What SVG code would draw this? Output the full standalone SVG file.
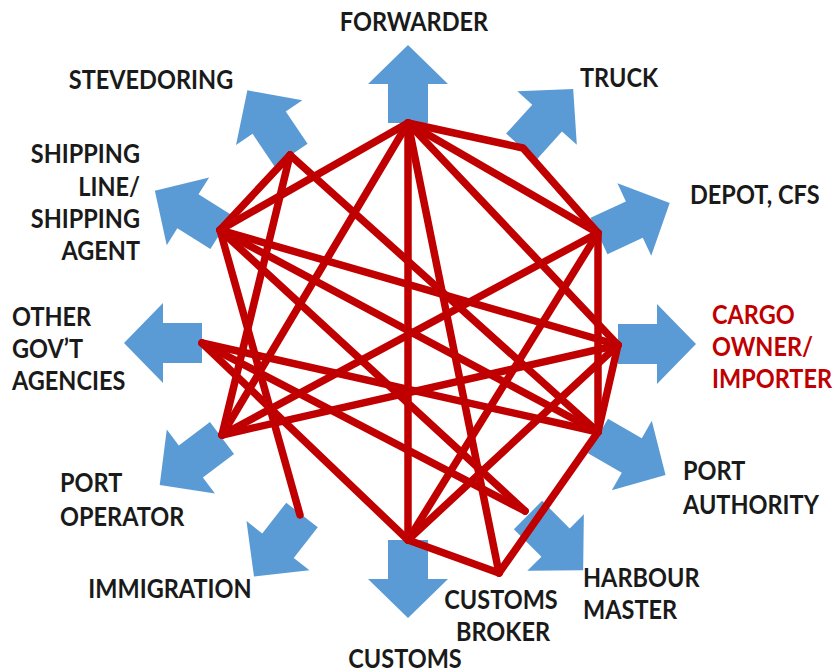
<svg xmlns="http://www.w3.org/2000/svg" width="835" height="672" viewBox="0 0 835 672">
  <style>
    .arrow { fill: #5b9bd5; }
    .link { stroke: #c00000; stroke-width: 7.5; stroke-linecap: round; stroke-linejoin: round; fill: none; }
    .lbl { font-family: Lato, "Liberation Sans", sans-serif; font-weight: bold; font-size: 23.5px; fill: #1a1a1a; }
    .red { fill: #c00000; }
    .mid { text-anchor: middle; }
    .end { text-anchor: end; }
  </style>
  <defs>
    <!-- block arrow pointing up, base centre at the origin -->
    <polygon id="blk" points="-20,0 -20,-39 -40,-39 0,-78 40,-39 20,-39 20,0"/>
  </defs>
  <rect width="835" height="672" fill="#ffffff"/>

  <g id="n-forwarder">
    <use class="arrow" href="#blk" transform="translate(408,123) rotate(0)"/>
    <text class="lbl mid" transform="translate(414,31) scale(1,1.15)">FORWARDER</text>
  </g>
  <g id="n-truck">
    <use class="arrow" href="#blk" transform="translate(521,147) rotate(42)"/>
    <text class="lbl" transform="translate(580,87) scale(1,1.15)">TRUCK</text>
  </g>
  <g id="n-depot">
    <use class="arrow" href="#blk" transform="translate(599,236) rotate(65)"/>
    <text class="lbl" transform="translate(690,204) scale(1,1.15)">DEPOT, CFS</text>
  </g>
  <g id="n-cargo">
    <use class="arrow" href="#blk" transform="translate(618,344) rotate(90)"/>
    <text class="lbl red" transform="translate(712,324) scale(1,1.15)">CARGO</text>
    <text class="lbl red" transform="translate(712,356) scale(1,1.15)">OWNER/</text>
    <text class="lbl red" transform="translate(712,388) scale(1,1.15)">IMPORTER</text>
  </g>
  <g id="n-portauthority">
    <use class="arrow" href="#blk" transform="translate(598,436) rotate(120)"/>
    <text class="lbl" transform="translate(683,480) scale(1,1.15)">PORT</text>
    <text class="lbl" transform="translate(683,514) scale(1,1.15)">AUTHORITY</text>
  </g>
  <g id="n-harbour">
    <use class="arrow" href="#blk" transform="translate(528,515) rotate(135)"/>
    <text class="lbl" transform="translate(583,587) scale(1,1.15)">HARBOUR</text>
    <text class="lbl" transform="translate(583,619) scale(1,1.15)">MASTER</text>
  </g>
  <g id="n-broker">
    <text class="lbl mid" transform="translate(501,609) scale(1,1.15)">CUSTOMS</text>
    <text class="lbl mid" transform="translate(503,641) scale(1,1.15)">BROKER</text>
  </g>
  <g id="n-customs">
    <use class="arrow" href="#blk" transform="translate(408,540) rotate(180)"/>
    <text class="lbl mid" transform="translate(405,668) scale(1,1.15)">CUSTOMS</text>
  </g>
  <g id="n-immigration">
    <use class="arrow" href="#blk" transform="translate(302,515) rotate(218)"/>
    <text class="lbl mid" transform="translate(170,598) scale(1,1.15)">IMMIGRATION</text>
  </g>
  <g id="n-portoperator">
    <use class="arrow" href="#blk" transform="translate(222,438) rotate(233)"/>
    <text class="lbl" transform="translate(60,492) scale(1,1.15)">PORT</text>
    <text class="lbl" transform="translate(60,526) scale(1,1.15)">OPERATOR</text>
  </g>
  <g id="n-othergov">
    <use class="arrow" href="#blk" transform="translate(202,343) rotate(270)"/>
    <text class="lbl" transform="translate(12,326) scale(1,1.15)">OTHER</text>
    <text class="lbl" transform="translate(12,358) scale(1,1.15)">GOV’T</text>
    <text class="lbl" transform="translate(12,390) scale(1,1.15)">AGENCIES</text>
  </g>
  <g id="n-shipping">
    <use class="arrow" href="#blk" transform="translate(221,232) rotate(302)"/>
    <text class="lbl end" transform="translate(140,163) scale(1,1.15)">SHIPPING</text>
    <text class="lbl end" transform="translate(140,196) scale(1,1.15)">LINE/</text>
    <text class="lbl end" transform="translate(140,228) scale(1,1.15)">SHIPPING</text>
    <text class="lbl end" transform="translate(140,260) scale(1,1.15)">AGENT</text>
  </g>
  <g id="n-stevedoring">
    <use class="arrow" href="#blk" transform="translate(291,155) rotate(326)"/>
    <text class="lbl mid" transform="translate(151,89) scale(1,1.15)">STEVEDORING</text>
  </g>

  <!-- links are drawn over the arrow bases -->
  <g id="connectors" class="link">
    <path d="M408,123 L523,148 L598,233"/>
    <line x1="408" y1="123" x2="598" y2="233"/>
    <line x1="408" y1="123" x2="618" y2="345"/>
    <line x1="408" y1="123" x2="499" y2="573"/>
    <line x1="408" y1="123" x2="408" y2="540"/>
    <line x1="408" y1="123" x2="222" y2="435"/>
    <line x1="408" y1="123" x2="220" y2="230"/>
    <line x1="290" y1="155" x2="220" y2="230"/>
    <line x1="290" y1="155" x2="222" y2="435"/>
    <line x1="290" y1="155" x2="598" y2="432"/>
    <line x1="220" y1="230" x2="618" y2="345"/>
    <line x1="220" y1="230" x2="598" y2="432"/>
    <line x1="220" y1="230" x2="300" y2="515"/>
    <line x1="220" y1="230" x2="525" y2="511"/>
    <line x1="202" y1="343" x2="598" y2="432"/>
    <line x1="202" y1="343" x2="525" y2="511"/>
    <line x1="202" y1="343" x2="408" y2="540"/>
    <line x1="598" y1="233" x2="598" y2="432"/>
    <line x1="598" y1="233" x2="222" y2="435"/>
    <line x1="598" y1="233" x2="408" y2="540"/>
    <line x1="618" y1="345" x2="222" y2="435"/>
    <line x1="618" y1="345" x2="408" y2="540"/>
    <line x1="618" y1="345" x2="598" y2="432"/>
    <line x1="598" y1="432" x2="499" y2="573"/>
    <line x1="408" y1="540" x2="499" y2="573"/>
  </g>
</svg>
